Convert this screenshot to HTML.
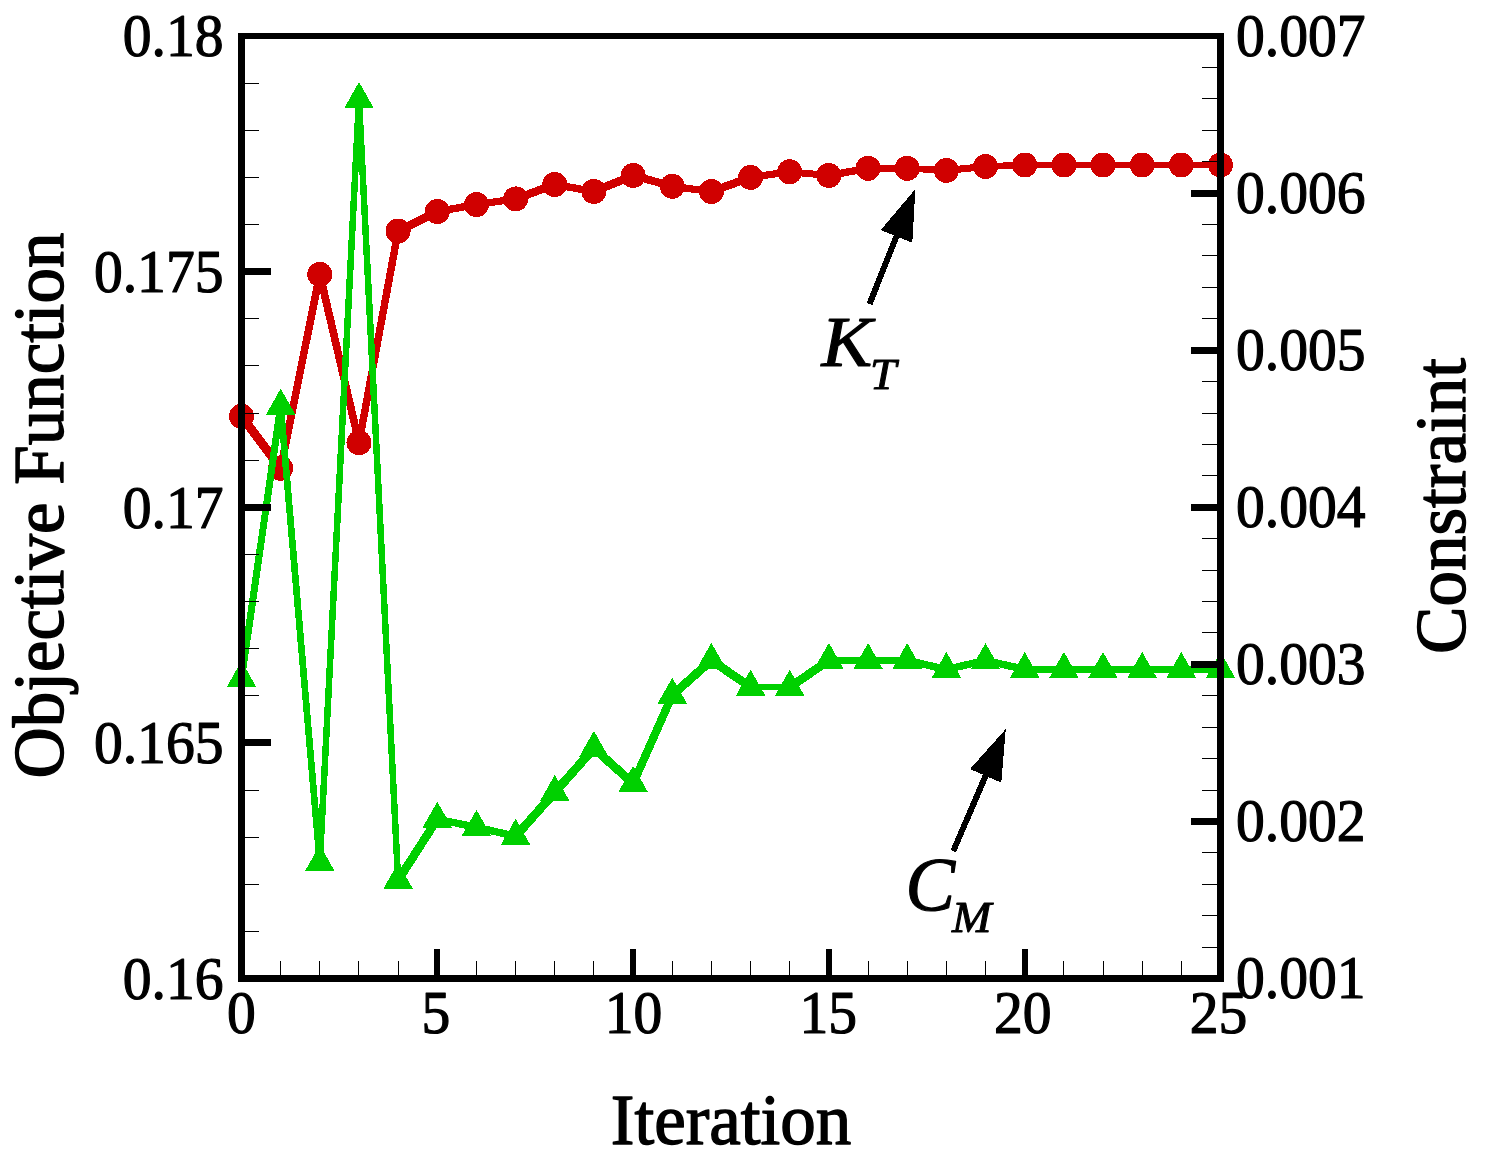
<!DOCTYPE html>
<html lang="en"><head><meta charset="utf-8"><title>Objective Function and Constraint vs Iteration</title>
<style>html,body{margin:0;padding:0;background:#fff}body{width:1492px;height:1171px;overflow:hidden}svg{display:block}text{font-family:"Liberation Serif",serif;fill:#000}</style>
</head><body>
<svg width="1492" height="1171" viewBox="0 0 1492 1171">
<rect x="0" y="0" width="1492" height="1171" fill="#fff"/>
<g id="kt-series" shape-rendering="crispEdges">
<path d="M238.3 413.1 L244.7 413.1 L283.9 465.1 L283.9 471.5 L277.5 471.5 L238.3 419.5Z M277.5 465.1 L316.6 271.1 L323.0 271.1 L323.0 277.5 L283.9 471.5 L277.5 471.5Z M316.6 271.1 L323.0 271.1 L362.2 439.4 L362.2 445.8 L355.8 445.8 L316.6 277.5Z M355.8 439.4 L394.9 227.8 L401.3 227.8 L401.3 234.2 L362.2 445.8 L355.8 445.8Z M394.9 227.8 L434.1 208.3 L440.5 208.3 L440.5 214.7 L401.3 234.2 L394.9 234.2Z M434.1 208.3 L473.3 201.4 L479.7 201.4 L479.7 207.8 L440.5 214.7 L434.1 214.7Z M473.3 201.4 L512.4 195.7 L518.8 195.7 L518.8 202.1 L479.7 207.8 L473.3 207.8Z M512.4 195.7 L551.6 181.3 L558.0 181.3 L558.0 187.7 L518.8 202.1 L512.4 202.1Z M551.6 181.3 L558.0 181.3 L597.1 188.3 L597.1 194.7 L590.7 194.7 L551.6 187.7Z M590.7 188.3 L629.9 172.3 L636.3 172.3 L636.3 178.7 L597.1 194.7 L590.7 194.7Z M629.9 172.3 L636.3 172.3 L675.5 183.1 L675.5 189.5 L669.1 189.5 L629.9 178.7Z M669.1 183.1 L675.5 183.1 L714.6 188.4 L714.6 194.8 L708.2 194.8 L669.1 189.5Z M708.2 188.4 L747.4 174.2 L753.8 174.2 L753.8 180.6 L714.6 194.8 L708.2 194.8Z M747.4 174.2 L786.5 168.6 L792.9 168.6 L792.9 175.0 L753.8 180.6 L747.4 180.6Z M786.5 168.6 L792.9 168.6 L832.1 172.3 L832.1 178.7 L825.7 178.7 L786.5 175.0Z M825.7 172.3 L864.9 165.1 L871.3 165.1 L871.3 171.5 L832.1 178.7 L825.7 178.7Z M864.9 165.1 L910.4 165.1 L910.4 171.5 L864.9 171.5Z M904.0 165.1 L910.4 165.1 L949.6 167.2 L949.6 173.6 L943.2 173.6 L904.0 171.5Z M943.2 167.2 L982.3 163.3 L988.7 163.3 L988.7 169.7 L949.6 173.6 L943.2 173.6Z M982.3 163.3 L1021.5 161.8 L1027.9 161.8 L1027.9 168.2 L988.7 169.7 L982.3 169.7Z M1021.5 161.8 L1067.1 161.8 L1067.1 168.2 L1021.5 168.2Z M1060.7 161.8 L1106.2 161.8 L1106.2 168.2 L1060.7 168.2Z M1099.8 161.8 L1145.4 161.8 L1145.4 168.2 L1099.8 168.2Z M1139.0 161.8 L1184.5 161.8 L1184.5 168.2 L1139.0 168.2Z M1178.1 161.8 L1223.7 161.8 L1223.7 168.2 L1178.1 168.2Z" fill="#d00000"/>
<circle cx="241.5" cy="416.3" r="12.5" fill="#d00000"/>
<circle cx="280.7" cy="468.3" r="12.5" fill="#d00000"/>
<circle cx="319.8" cy="274.3" r="12.5" fill="#d00000"/>
<circle cx="359.0" cy="442.6" r="12.5" fill="#d00000"/>
<circle cx="398.1" cy="231.0" r="12.5" fill="#d00000"/>
<circle cx="437.3" cy="211.5" r="12.5" fill="#d00000"/>
<circle cx="476.5" cy="204.6" r="12.5" fill="#d00000"/>
<circle cx="515.6" cy="198.9" r="12.5" fill="#d00000"/>
<circle cx="554.8" cy="184.5" r="12.5" fill="#d00000"/>
<circle cx="593.9" cy="191.5" r="12.5" fill="#d00000"/>
<circle cx="633.1" cy="175.5" r="12.5" fill="#d00000"/>
<circle cx="672.3" cy="186.3" r="12.5" fill="#d00000"/>
<circle cx="711.4" cy="191.6" r="12.5" fill="#d00000"/>
<circle cx="750.6" cy="177.4" r="12.5" fill="#d00000"/>
<circle cx="789.7" cy="171.8" r="12.5" fill="#d00000"/>
<circle cx="828.9" cy="175.5" r="12.5" fill="#d00000"/>
<circle cx="868.1" cy="168.3" r="12.5" fill="#d00000"/>
<circle cx="907.2" cy="168.3" r="12.5" fill="#d00000"/>
<circle cx="946.4" cy="170.4" r="12.5" fill="#d00000"/>
<circle cx="985.5" cy="166.5" r="12.5" fill="#d00000"/>
<circle cx="1024.7" cy="165.0" r="12.5" fill="#d00000"/>
<circle cx="1063.9" cy="165.0" r="12.5" fill="#d00000"/>
<circle cx="1103.0" cy="165.0" r="12.5" fill="#d00000"/>
<circle cx="1142.2" cy="165.0" r="12.5" fill="#d00000"/>
<circle cx="1181.3" cy="165.0" r="12.5" fill="#d00000"/>
<circle cx="1220.5" cy="165.0" r="12.5" fill="#d00000"/>
</g>
<g id="cm-series" shape-rendering="crispEdges">
<path d="M238.4 675.3 L277.6 403.0 L283.8 403.0 L283.8 409.2 L244.6 681.5 L238.4 681.5Z M277.6 403.0 L283.8 403.0 L322.9 859.3 L322.9 865.5 L316.7 865.5 L277.6 409.2Z M316.7 859.3 L355.9 96.4 L362.1 96.4 L362.1 102.6 L322.9 865.5 L316.7 865.5Z M355.9 96.4 L362.1 96.4 L401.2 877.2 L401.2 883.4 L395.0 883.4 L355.9 102.6Z M395.0 877.2 L434.2 816.1 L440.4 816.1 L440.4 822.3 L401.2 883.4 L395.0 883.4Z M434.2 816.1 L440.4 816.1 L479.6 824.2 L479.6 830.4 L473.4 830.4 L434.2 822.3Z M473.4 824.2 L479.6 824.2 L518.7 833.2 L518.7 839.4 L512.5 839.4 L473.4 830.4Z M512.5 833.2 L551.7 789.3 L557.9 789.3 L557.9 795.5 L518.7 839.4 L512.5 839.4Z M551.7 789.3 L590.8 745.3 L597.0 745.3 L597.0 751.5 L557.9 795.5 L551.7 795.5Z M590.8 745.3 L597.0 745.3 L636.2 780.3 L636.2 786.5 L630.0 786.5 L590.8 751.5Z M630.0 780.3 L669.2 692.1 L675.4 692.1 L675.4 698.3 L636.2 786.5 L630.0 786.5Z M669.2 692.1 L708.3 657.2 L714.5 657.2 L714.5 663.4 L675.4 698.3 L669.2 698.3Z M708.3 657.2 L714.5 657.2 L753.7 684.1 L753.7 690.3 L747.5 690.3 L708.3 663.4Z M747.5 684.1 L792.8 684.1 L792.8 690.3 L747.5 690.3Z M786.6 684.1 L825.8 657.3 L832.0 657.3 L832.0 663.5 L792.8 690.3 L786.6 690.3Z M825.8 657.3 L832.0 657.3 L871.2 657.4 L871.2 663.6 L865.0 663.6 L825.8 663.5Z M865.0 657.4 L910.3 657.4 L910.3 663.6 L865.0 663.6Z M904.1 657.4 L910.3 657.4 L949.5 666.3 L949.5 672.5 L943.3 672.5 L904.1 663.6Z M943.3 666.3 L982.4 657.4 L988.6 657.4 L988.6 663.6 L949.5 672.5 L943.3 672.5Z M982.4 657.4 L988.6 657.4 L1027.8 666.3 L1027.8 672.5 L1021.6 672.5 L982.4 663.6Z M1021.6 666.3 L1067.0 666.3 L1067.0 672.5 L1021.6 672.5Z M1060.8 666.3 L1106.1 666.3 L1106.1 672.5 L1060.8 672.5Z M1099.9 666.3 L1145.3 666.3 L1145.3 672.5 L1099.9 672.5Z M1139.1 666.3 L1184.4 666.3 L1184.4 672.5 L1139.1 672.5Z M1178.2 666.3 L1223.6 666.3 L1223.6 672.5 L1178.2 672.5Z" fill="#00d000"/>
<polygon points="241.5,660.9 256.4,687.2 226.6,687.2" fill="#00d000"/>
<polygon points="280.7,388.6 295.6,414.9 265.8,414.9" fill="#00d000"/>
<polygon points="319.8,844.9 334.7,871.2 304.9,871.2" fill="#00d000"/>
<polygon points="359.0,82.0 373.9,108.3 344.1,108.3" fill="#00d000"/>
<polygon points="398.1,862.8 413.0,889.1 383.2,889.1" fill="#00d000"/>
<polygon points="437.3,801.7 452.2,828.0 422.4,828.0" fill="#00d000"/>
<polygon points="476.5,809.8 491.4,836.1 461.6,836.1" fill="#00d000"/>
<polygon points="515.6,818.8 530.5,845.1 500.7,845.1" fill="#00d000"/>
<polygon points="554.8,774.9 569.7,801.2 539.9,801.2" fill="#00d000"/>
<polygon points="593.9,730.9 608.8,757.2 579.0,757.2" fill="#00d000"/>
<polygon points="633.1,765.9 648.0,792.2 618.2,792.2" fill="#00d000"/>
<polygon points="672.3,677.7 687.2,704.0 657.4,704.0" fill="#00d000"/>
<polygon points="711.4,642.8 726.3,669.1 696.5,669.1" fill="#00d000"/>
<polygon points="750.6,669.7 765.5,696.0 735.7,696.0" fill="#00d000"/>
<polygon points="789.7,669.7 804.6,696.0 774.8,696.0" fill="#00d000"/>
<polygon points="828.9,642.9 843.8,669.2 814.0,669.2" fill="#00d000"/>
<polygon points="868.1,643.0 883.0,669.3 853.2,669.3" fill="#00d000"/>
<polygon points="907.2,643.0 922.1,669.3 892.3,669.3" fill="#00d000"/>
<polygon points="946.4,651.9 961.3,678.2 931.5,678.2" fill="#00d000"/>
<polygon points="985.5,643.0 1000.4,669.3 970.6,669.3" fill="#00d000"/>
<polygon points="1024.7,651.9 1039.6,678.2 1009.8,678.2" fill="#00d000"/>
<polygon points="1063.9,651.9 1078.8,678.2 1049.0,678.2" fill="#00d000"/>
<polygon points="1103.0,651.9 1117.9,678.2 1088.1,678.2" fill="#00d000"/>
<polygon points="1142.2,651.9 1157.1,678.2 1127.3,678.2" fill="#00d000"/>
<polygon points="1181.3,651.9 1196.2,678.2 1166.4,678.2" fill="#00d000"/>
<polygon points="1220.5,651.9 1235.4,678.2 1205.6,678.2" fill="#00d000"/>
</g>
<g id="axes" fill="#000" shape-rendering="crispEdges">
<rect x="238" y="33" width="7" height="949"/>
<rect x="1217" y="33" width="7" height="949"/>
<rect x="238" y="33" width="986" height="6"/>
<rect x="238" y="975" width="986" height="7"/>
<rect x="245" y="83" width="14" height="1"/>
<rect x="245" y="130" width="14" height="1"/>
<rect x="245" y="177" width="14" height="1"/>
<rect x="245" y="224" width="14" height="1"/>
<rect x="245" y="268" width="26" height="7"/>
<rect x="245" y="318" width="14" height="1"/>
<rect x="245" y="365" width="14" height="1"/>
<rect x="245" y="413" width="14" height="1"/>
<rect x="245" y="460" width="14" height="1"/>
<rect x="245" y="504" width="26" height="7"/>
<rect x="245" y="554" width="14" height="1"/>
<rect x="245" y="601" width="14" height="1"/>
<rect x="245" y="648" width="14" height="1"/>
<rect x="245" y="695" width="14" height="1"/>
<rect x="245" y="739" width="26" height="7"/>
<rect x="245" y="790" width="14" height="1"/>
<rect x="245" y="837" width="14" height="1"/>
<rect x="245" y="884" width="14" height="1"/>
<rect x="245" y="931" width="14" height="1"/>
<rect x="1202" y="67" width="15" height="1"/>
<rect x="1202" y="98" width="15" height="1"/>
<rect x="1202" y="130" width="15" height="1"/>
<rect x="1202" y="161" width="15" height="1"/>
<rect x="1191" y="190" width="26" height="7"/>
<rect x="1202" y="224" width="15" height="1"/>
<rect x="1202" y="255" width="15" height="1"/>
<rect x="1202" y="287" width="15" height="1"/>
<rect x="1202" y="318" width="15" height="1"/>
<rect x="1191" y="347" width="26" height="7"/>
<rect x="1202" y="381" width="15" height="1"/>
<rect x="1202" y="413" width="15" height="1"/>
<rect x="1202" y="444" width="15" height="1"/>
<rect x="1202" y="475" width="15" height="1"/>
<rect x="1191" y="504" width="26" height="7"/>
<rect x="1202" y="538" width="15" height="1"/>
<rect x="1202" y="570" width="15" height="1"/>
<rect x="1202" y="601" width="15" height="1"/>
<rect x="1202" y="632" width="15" height="1"/>
<rect x="1191" y="661" width="26" height="7"/>
<rect x="1202" y="695" width="15" height="1"/>
<rect x="1202" y="727" width="15" height="1"/>
<rect x="1202" y="758" width="15" height="1"/>
<rect x="1202" y="790" width="15" height="1"/>
<rect x="1191" y="818" width="26" height="7"/>
<rect x="1202" y="852" width="15" height="1"/>
<rect x="1202" y="884" width="15" height="1"/>
<rect x="1202" y="915" width="15" height="1"/>
<rect x="1202" y="947" width="15" height="1"/>
<rect x="280" y="961" width="1" height="14"/>
<rect x="319" y="961" width="1" height="14"/>
<rect x="358" y="961" width="1" height="14"/>
<rect x="398" y="961" width="1" height="14"/>
<rect x="434" y="949" width="6" height="26"/>
<rect x="476" y="961" width="1" height="14"/>
<rect x="515" y="961" width="1" height="14"/>
<rect x="554" y="961" width="1" height="14"/>
<rect x="593" y="961" width="1" height="14"/>
<rect x="630" y="949" width="6" height="26"/>
<rect x="672" y="961" width="1" height="14"/>
<rect x="711" y="961" width="1" height="14"/>
<rect x="750" y="961" width="1" height="14"/>
<rect x="789" y="961" width="1" height="14"/>
<rect x="826" y="949" width="6" height="26"/>
<rect x="868" y="961" width="1" height="14"/>
<rect x="907" y="961" width="1" height="14"/>
<rect x="946" y="961" width="1" height="14"/>
<rect x="985" y="961" width="1" height="14"/>
<rect x="1022" y="949" width="6" height="26"/>
<rect x="1063" y="961" width="1" height="14"/>
<rect x="1103" y="961" width="1" height="14"/>
<rect x="1142" y="961" width="1" height="14"/>
<rect x="1181" y="961" width="1" height="14"/>
</g>
<g id="ticklabels">
<text transform="translate(223.5,56.2) scale(0.9400,1.0000)" font-size="61.3" text-anchor="end" stroke="#000" stroke-width="1.2" stroke-linejoin="round">0.18</text>
<text transform="translate(223.5,291.8) scale(0.9400,1.0000)" font-size="61.3" text-anchor="end" stroke="#000" stroke-width="1.2" stroke-linejoin="round">0.175</text>
<text transform="translate(223.5,527.5) scale(0.9400,1.0000)" font-size="61.3" text-anchor="end" stroke="#000" stroke-width="1.2" stroke-linejoin="round">0.17</text>
<text transform="translate(223.5,763.1) scale(0.9400,1.0000)" font-size="61.3" text-anchor="end" stroke="#000" stroke-width="1.2" stroke-linejoin="round">0.165</text>
<text transform="translate(223.5,998.7) scale(0.9400,1.0000)" font-size="61.3" text-anchor="end" stroke="#000" stroke-width="1.2" stroke-linejoin="round">0.16</text>
<text transform="translate(1236.0,55.8) scale(0.9400,1.0000)" font-size="61.3" text-anchor="start" stroke="#000" stroke-width="1.2" stroke-linejoin="round">0.007</text>
<text transform="translate(1236.0,212.9) scale(0.9400,1.0000)" font-size="61.3" text-anchor="start" stroke="#000" stroke-width="1.2" stroke-linejoin="round">0.006</text>
<text transform="translate(1236.0,370.0) scale(0.9400,1.0000)" font-size="61.3" text-anchor="start" stroke="#000" stroke-width="1.2" stroke-linejoin="round">0.005</text>
<text transform="translate(1236.0,527.0) scale(0.9400,1.0000)" font-size="61.3" text-anchor="start" stroke="#000" stroke-width="1.2" stroke-linejoin="round">0.004</text>
<text transform="translate(1236.0,684.1) scale(0.9400,1.0000)" font-size="61.3" text-anchor="start" stroke="#000" stroke-width="1.2" stroke-linejoin="round">0.003</text>
<text transform="translate(1236.0,841.2) scale(0.9400,1.0000)" font-size="61.3" text-anchor="start" stroke="#000" stroke-width="1.2" stroke-linejoin="round">0.002</text>
<text transform="translate(1236.0,998.3) scale(0.9400,1.0000)" font-size="61.3" text-anchor="start" stroke="#000" stroke-width="1.2" stroke-linejoin="round">0.001</text>
<text transform="translate(241.5,1032.8) scale(0.9400,1.0000)" font-size="61.3" text-anchor="middle" stroke="#000" stroke-width="1.2" stroke-linejoin="round">0</text>
<text transform="translate(435.8,1032.8) scale(0.9400,1.0000)" font-size="61.3" text-anchor="middle" stroke="#000" stroke-width="1.2" stroke-linejoin="round">5</text>
<text transform="translate(633.6,1032.8) scale(0.9400,1.0000)" font-size="61.3" text-anchor="middle" stroke="#000" stroke-width="1.2" stroke-linejoin="round">10</text>
<text transform="translate(828.2,1032.8) scale(0.9400,1.0000)" font-size="61.3" text-anchor="middle" stroke="#000" stroke-width="1.2" stroke-linejoin="round">15</text>
<text transform="translate(1022.7,1032.8) scale(0.9400,1.0000)" font-size="61.3" text-anchor="middle" stroke="#000" stroke-width="1.2" stroke-linejoin="round">20</text>
<text transform="translate(1218.5,1032.8) scale(0.9400,1.0000)" font-size="61.3" text-anchor="middle" stroke="#000" stroke-width="1.2" stroke-linejoin="round">25</text>
</g>
<g id="titles">
<text transform="translate(731.0,1144.0) scale(0.9780,1.0000)" font-size="72.6" text-anchor="middle" stroke="#000" stroke-width="1.4" stroke-linejoin="round">Iteration</text>
<text transform="translate(62.8,505.5) rotate(-90) scale(0.9780,1.0000)" font-size="72.6" text-anchor="middle" stroke="#000" stroke-width="1.4" stroke-linejoin="round">Objective Function</text>
<text transform="translate(1465.2,506.0) rotate(-90) scale(0.9780,1.0000)" font-size="72.6" text-anchor="middle" stroke="#000" stroke-width="1.4" stroke-linejoin="round">Constraint</text>
</g>
<g id="annotations" shape-rendering="crispEdges">
<line x1="869.5" y1="304.0" x2="897.2" y2="234.5" stroke="#000" stroke-width="6"/>
<polygon points="915.4,189.0 912.3,242.7 880.7,230.1" fill="#000"/>
<line x1="953.3" y1="851.0" x2="986.4" y2="774.0" stroke="#000" stroke-width="6"/>
<polygon points="1005.8,729.0 1001.3,782.6 970.0,769.1" fill="#000"/>
<text transform="translate(821.5,365.8) scale(1.0550,1.0000)" font-size="72" text-anchor="start" font-style="italic" stroke="#000" stroke-width="1.1" stroke-linejoin="round">K</text>
<text transform="translate(870.0,388.5) scale(1.0700,1.0000)" font-size="44" text-anchor="start" font-style="italic" stroke="#000" stroke-width="1" stroke-linejoin="round">T</text>
<text transform="translate(905.5,909.5) scale(1.0300,1.0450)" font-size="72" text-anchor="start" font-style="italic" stroke="#000" stroke-width="1.1" stroke-linejoin="round">C</text>
<text transform="translate(952.0,931.5) scale(1.0750,1.0000)" font-size="44" text-anchor="start" font-style="italic" stroke="#000" stroke-width="1" stroke-linejoin="round">M</text>
</g>
</svg>
</body></html>
